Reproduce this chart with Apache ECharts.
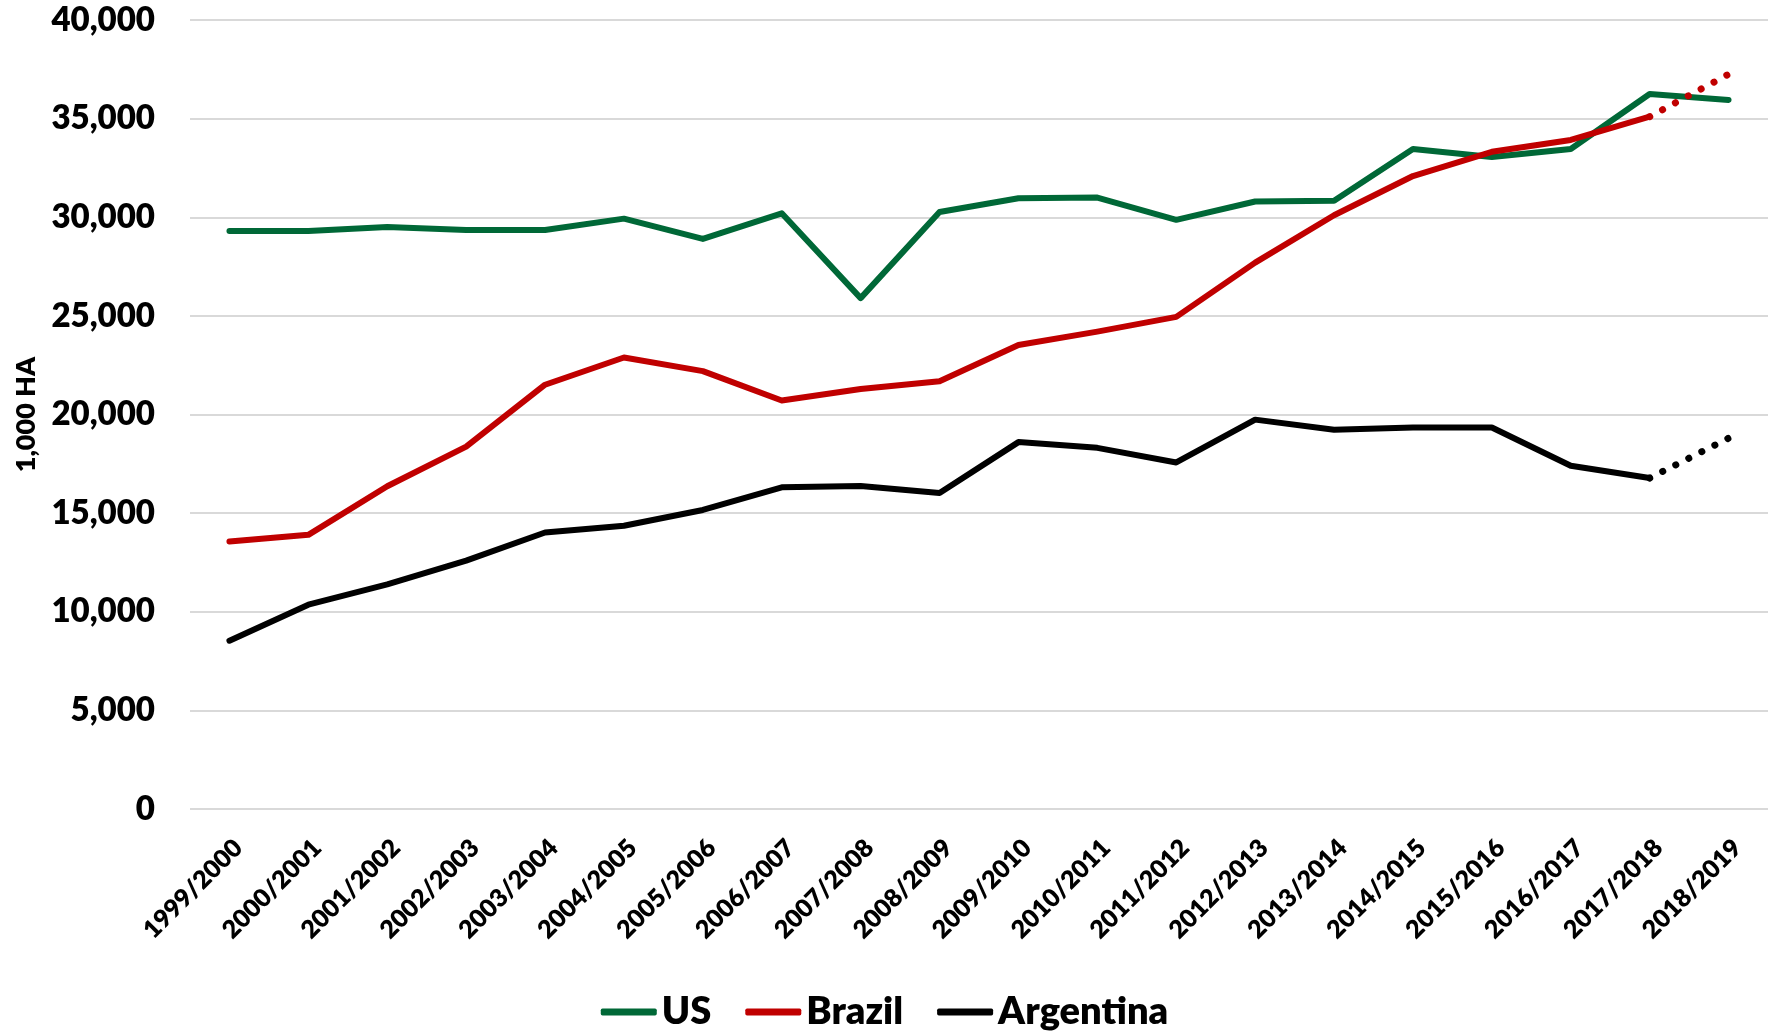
<!DOCTYPE html>
<html>
<head>
<meta charset="utf-8">
<script src="https://cdn.jsdelivr.net/npm/echarts@6/dist/echarts.min.js"></script>
<style>
  html, body { margin: 0; padding: 0; background: #fff; }
  #chart { width: 1769px; height: 1031px; }
</style>
</head>
<body>
<div id="chart"></div>
<script>
// marketing years
const seasons = [
  '1999/2000', '2000/2001', '2001/2002', '2002/2003', '2003/2004',
  '2004/2005', '2005/2006', '2006/2007', '2007/2008', '2008/2009',
  '2009/2010', '2010/2011', '2011/2012', '2012/2013', '2013/2014',
  '2014/2015', '2015/2016', '2016/2017', '2017/2018', '2018/2019'
]

// planted area, 1,000 ha
const usArea = [
  29300, 29300, 29500, 29350, 29350, 29930, 28900, 30200, 25900, 30270,
  30960, 31000, 29870, 30800, 30840, 33460, 33050, 33460, 36250, 35950
]
const brazilArea = [
  13560, 13900, 16360, 18370, 21510, 22890, 22200, 20710, 21290, 21690,
  23520, 24200, 24950, 27700, 30100, 32090, 33320, 33920, 35100, null
]
const argentinaArea = [
  8530, 10360, 11390, 12590, 14020, 14360, 15160, 16310, 16370, 16020,
  18600, 18310, 17570, 19740, 19230, 19340, 19340, 17400, 16780, null
]
// projections (dotted)
const brazilProj = [null, null, null, null, null, null, null, null, null, null,
  null, null, null, null, null, null, null, null, 35100, 37250]
const argentinaProj = [null, null, null, null, null, null, null, null, null, null,
  null, null, null, null, null, null, null, null, 16780, 18800]

const yTicks = { min: 0, max: 40000, interval: 5000 }

const GREEN = '#006837'
const RED = '#C00000'
const BLACK = '#000000'
const FONT = 'Lato'
const WEIGHT = 800

const chart = echarts.init(document.getElementById('chart'), null, { renderer: 'canvas' })

function solid(name, data, color) {
  return {
    name, type: 'line', data,
    symbol: 'none', smooth: false,
    lineStyle: { color, width: 6, cap: 'round', join: 'round' },
    itemStyle: { color },
    z: name === 'US' ? 2 : 3
  }
}

function dotted(name, data, color) {
  return {
    name, type: 'line', data,
    symbol: 'none',
    lineStyle: { color, width: 7, type: [0.1, 14.5], cap: 'round' },
    itemStyle: { color },
    z: 3
  }
}

chart.setOption({
  animation: false,
  textStyle: { fontFamily: FONT },
  grid: { left: 190, right: 1, top: 20, bottom: 222, containLabel: false },
  legend: {
    data: ['US', 'Brazil', 'Argentina'],
    left: 'center', top: 988,
    icon: 'roundRect',
    itemWidth: 56, itemHeight: 7, itemGap: 34,
    textStyle: { fontFamily: FONT, fontWeight: WEIGHT, fontSize: 38, color: '#000' }
  },
  xAxis: {
    type: 'category',
    data: seasons,
    boundaryGap: true,
    axisLine: { show: false },
    axisTick: { show: false },
    axisLabel: {
      rotate: 45, interval: 0, margin: 26, verticalAlign: 'top',
      fontFamily: FONT, fontWeight: WEIGHT, fontSize: 25, color: '#000'
    }
  },
  yAxis: {
    type: 'value',
    min: yTicks.min, max: yTicks.max, interval: yTicks.interval,
    name: '1,000 HA',
    nameLocation: 'middle',
    nameGap: 150,
    nameTextStyle: { fontFamily: FONT, fontWeight: WEIGHT, fontSize: 27, color: '#000' },
    axisLine: { show: false },
    axisTick: { show: false },
    splitLine: { lineStyle: { color: '#d9d9d9', width: 2 } },
    axisLabel: {
      margin: 35,
      fontFamily: FONT, fontWeight: WEIGHT, fontSize: 33, color: '#000',
      formatter: (v) => v.toLocaleString('en-US')
    }
  },
  series: [
    solid('US', usArea, GREEN),
    solid('Brazil', brazilArea, RED),
    solid('Argentina', argentinaArea, BLACK),
    dotted('Brazil projection', brazilProj, RED),
    dotted('Argentina projection', argentinaProj, BLACK)
  ]
})

window.addEventListener('resize', () => chart.resize())
</script>
</body>
</html>
